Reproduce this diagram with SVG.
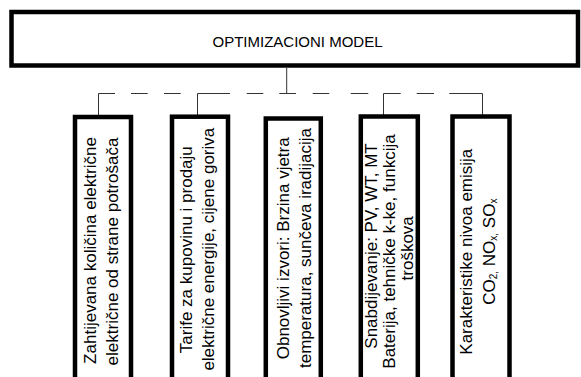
<svg xmlns="http://www.w3.org/2000/svg" width="581" height="377" viewBox="0 0 581 377">
<style>
.box{fill:#fff;stroke:#000;stroke-width:4.5}
.ln{stroke:#333;stroke-width:1;fill:none}
.t{font-family:"Liberation Sans",Arial,sans-serif;font-size:17px;fill:#000;text-anchor:middle}
.top{font-family:"Liberation Sans",Arial,sans-serif;font-size:15px;fill:#000;text-anchor:middle}
.sub{font-size:10px}
</style>
<rect width="581" height="377" fill="#fff"/>
<g id="connectors">
<line class="ln" x1="286.7" y1="68" x2="286.7" y2="93.5"/>
<path class="ln" d="M98.5 115V93.5H115"/>
<line class="ln" x1="131" y1="93.5" x2="147.7" y2="93.5"/>
<line class="ln" x1="164" y1="93.5" x2="180.7" y2="93.5"/>
<path class="ln" d="M197.5 115V93.5H230"/>
<line class="ln" x1="246.7" y1="93.5" x2="263.3" y2="93.5"/>
<line class="ln" x1="279.3" y1="93.5" x2="296" y2="93.5"/>
<line class="ln" x1="312.7" y1="93.5" x2="329.3" y2="93.5"/>
<line class="ln" x1="350.7" y1="93.5" x2="368.3" y2="93.5"/>
<path class="ln" d="M383.5 115V93.5H400.7"/>
<line class="ln" x1="416.7" y1="93.5" x2="434" y2="93.5"/>
<path class="ln" d="M449.3 93.5H482.5V115"/>
</g>
<g id="top">
<rect class="box" x="11.5" y="12" width="566.5" height="53.5"/>
<text class="top" x="297.5" y="46.5">OPTIMIZACIONI MODEL</text>
</g>
<g id="box1">
<rect class="box" x="75" y="117" width="56" height="290"/>
<text class="t" transform="translate(96,250.5) rotate(-90)">Zahtijevana količina električne</text>
<text class="t" transform="translate(118,251.5) rotate(-90)">električne od strane potrošača</text>
</g>
<g id="box2">
<rect class="box" x="172" y="116.7" width="56" height="290"/>
<text class="t" transform="translate(191.7,249.7) rotate(-90)">Tarife za kupovinu i prodaju</text>
<text class="t" transform="translate(213.5,249.2) rotate(-90)">električne energije, cijene goriva</text>
</g>
<g id="box3">
<rect class="box" x="265.8" y="118.5" width="55" height="290"/>
<text class="t" transform="translate(289,248.3) rotate(-90)">Obnovljivi izvori: Brzina vjetra</text>
<text class="t" transform="translate(310.5,248) rotate(-90)">temperatura, sunčeva iradijacija</text>
</g>
<g id="box4">
<rect class="box" x="360.8" y="116.5" width="57" height="290"/>
<text class="t" transform="translate(377,246) rotate(-90)">Snabdijevanje: PV, WT, MT</text>
<text class="t" transform="translate(395,251.5) rotate(-90)">Baterija, tehničke k-ke,  funkcija</text>
<text class="t" transform="translate(413,248.3) rotate(-90)">troškova</text>
</g>
<g id="box5">
<rect class="box" x="452.5" y="116.5" width="57" height="290"/>
<text class="t" transform="translate(471.5,251.7) rotate(-90)">Karakteristike nivoa emisija</text>
<text class="t" transform="translate(495,251.7) rotate(-90)">CO<tspan class="sub" dy="2">2,</tspan><tspan dy="-2"> NO</tspan><tspan class="sub" dy="2">x,</tspan><tspan dy="-2"> SO</tspan><tspan class="sub" dy="2">x</tspan></text>
</g>
</svg>
